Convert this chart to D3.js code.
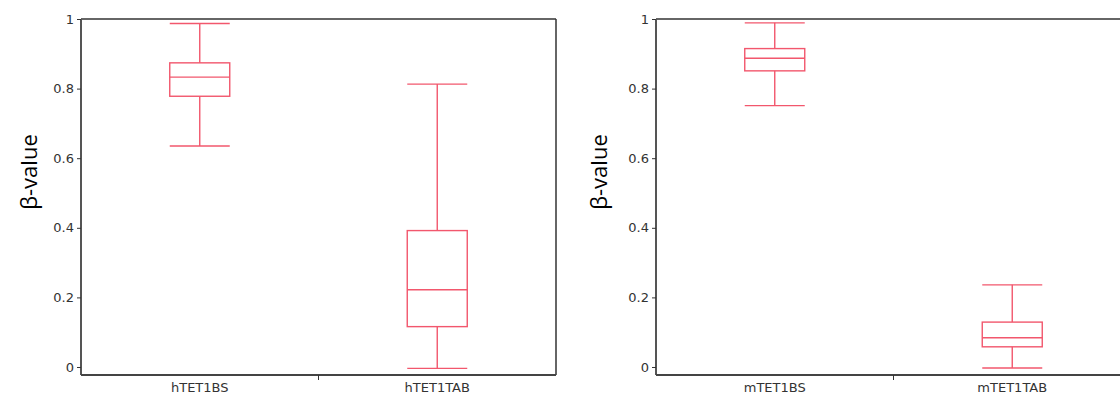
<!DOCTYPE html>
<meta charset="utf-8">
<style>
  body { margin: 0; background: #fff; }
  .tick text { font: 13px "DejaVu Sans", sans-serif; fill: #333; }
  .ylab { font: 22px "Open Sans", sans-serif; fill: #000; }
</style>
<svg width="1120" height="394"></svg>
<script src="https://d3js.org/d3.v7.min.js"></script>
<script>
// box stats per group: [lowerWhisker, q1, median, q3, upperWhisker]
var leftGroups = ["hTET1BS", "hTET1TAB"];
var leftStats = [
  [0.635, 0.778, 0.833, 0.874, 0.987],
  [-0.004, 0.116, 0.222, 0.392, 0.813]
];
var rightGroups = ["mTET1BS", "mTET1TAB"];
var rightStats = [
  [0.751, 0.851, 0.887, 0.915, 0.989],
  [-0.003, 0.058, 0.084, 0.129, 0.236]
];
var yTicks = [0, 0.2, 0.4, 0.6, 0.8, 1];

var boxColor = "#f2576d";
var svg = d3.select("svg");

function panel(x0, x1, groups, stats, labX) {
  var top = 19, bottom = 375;
  var y = d3.scaleLinear().domain([-0.023, 1]).range([bottom, top]);
  var x = d3.scaleBand().domain(groups).range([x0, x1]);
  var g = svg.append("g");

  // frame: top and right
  g.append("line").attr("x1", x0).attr("x2", x1).attr("y1", top).attr("y2", top)
    .attr("stroke", "#333").attr("stroke-width", 1.5);
  g.append("line").attr("x1", x1).attr("x2", x1).attr("y1", top).attr("y2", bottom)
    .attr("stroke", "#333").attr("stroke-width", 1.5);

  // y axis
  var ya = g.append("g").attr("transform", "translate(" + x0 + ",0)")
    .call(d3.axisLeft(y).tickValues(yTicks).tickSize(4).tickPadding(3)
      .tickFormat(function(d) { return d === 0 || d === 1 ? d : d3.format(".1f")(d); }));
  ya.select(".domain").attr("stroke", "#555").attr("stroke-width", 2)
    .attr("d", "M0," + top + "V" + bottom);
  ya.selectAll(".tick line").attr("stroke", "#333");

  // x axis: only a middle tick between categories
  var xa = g.append("g").attr("transform", "translate(0," + bottom + ")")
    .call(d3.axisBottom(x).tickSize(0).tickPadding(8));
  xa.select(".domain").attr("stroke", "#444").attr("stroke-width", 2)
    .attr("d", "M" + x0 + ",0H" + x1);
  g.append("line").attr("x1", x(groups[1])).attr("x2", x(groups[1]))
    .attr("y1", bottom).attr("y2", bottom + 5).attr("stroke", "#333");

  // boxes
  var bw = 60;
  var b = g.selectAll(".box").data(stats).enter().append("g")
    .attr("fill", "none").attr("stroke", boxColor).attr("stroke-width", 1.4);
  function cx(d, i) { return x(groups[i]) + x.bandwidth() / 2; }
  b.append("line")
    .attr("x1", cx).attr("x2", cx)
    .attr("y1", function(d) { return y(d[0]); }).attr("y2", function(d) { return y(d[1]); });
  b.append("line")
    .attr("x1", cx).attr("x2", cx)
    .attr("y1", function(d) { return y(d[3]); }).attr("y2", function(d) { return y(d[4]); });
  [0, 4].forEach(function(k) {
    b.append("line")
      .attr("x1", function(d, i) { return cx(d, i) - bw / 2; })
      .attr("x2", function(d, i) { return cx(d, i) + bw / 2; })
      .attr("y1", function(d) { return y(d[k]); }).attr("y2", function(d) { return y(d[k]); });
  });
  b.append("rect")
    .attr("x", function(d, i) { return cx(d, i) - bw / 2; })
    .attr("width", bw)
    .attr("y", function(d) { return y(d[3]); })
    .attr("height", function(d) { return y(d[1]) - y(d[3]); });
  b.append("line")
    .attr("x1", function(d, i) { return cx(d, i) - bw / 2; })
    .attr("x2", function(d, i) { return cx(d, i) + bw / 2; })
    .attr("y1", function(d) { return y(d[2]); }).attr("y2", function(d) { return y(d[2]); });

  g.append("text").attr("class", "ylab")
    .attr("transform", "translate(" + labX + ",172) rotate(-90)")
    .attr("text-anchor", "middle")
    .text("β-value");
}

panel(81, 556, leftGroups, leftStats, 37);
panel(656, 1131, rightGroups, rightStats, 607);
</script>
